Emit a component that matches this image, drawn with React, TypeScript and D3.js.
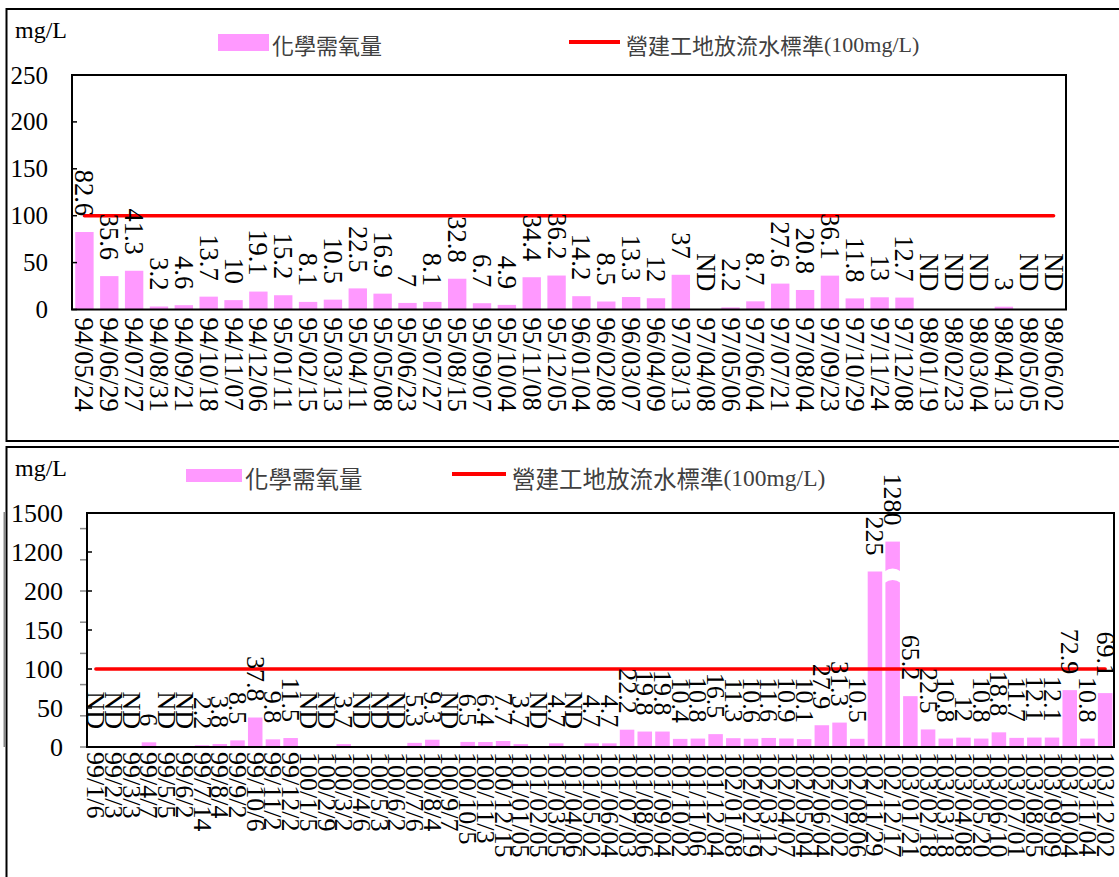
import React from 'react';
import * as d3 from 'd3';

// 上圖：94~98年 化學需氧量 (ND = 未檢出)
const topDates = [
  '94/05/24', '94/06/29', '94/07/27', '94/08/31', '94/09/21', '94/10/18', '94/11/07', '94/12/06',
  '95/01/11', '95/02/15', '95/03/13', '95/04/11', '95/05/08', '95/06/23', '95/07/27', '95/08/15',
  '95/09/07', '95/10/04', '95/11/08', '95/12/05', '96/01/04', '96/02/08', '96/03/07', '96/04/09',
  '97/03/13', '97/04/08', '97/05/06', '97/06/04', '97/07/21', '97/08/04', '97/09/23', '97/10/29',
  '97/11/24', '97/12/08', '98/01/19', '98/02/23', '98/03/04', '98/04/13', '98/05/05', '98/06/02',
];
const topCod: (number | null)[] = [
  82.6, 35.6, 41.3, 3.2, 4.6, 13.7, 10, 19.1,
  15.2, 8.1, 10.5, 22.5, 16.9, 7, 8.1, 32.8,
  6.7, 4.9, 34.4, 36.2, 14.2, 8.5, 13.3, 12,
  37, null, 2.2, 8.7, 27.6, 20.8, 36.1, 11.8,
  13, 12.7, null, null, null, 3, null, null,
];

// 下圖：99~103年
const bottomDates = [
  '99/1/6', '99/2/3', '99/3/3', '99/4/7', '99/5/5', '99/6/2', '99/7/14', '99/8/4', '99/9/2', '99/10/6',
  '99/11/2', '99/12/2', '100/1/5', '100/2/9', '100/3/2', '100/4/6', '100/5/3', '100/6/2', '100/7/6',
  '100/8/4', '100/9/7', '100/10/5', '100/11/3', '100/12/15', '101/01/05', '101/02/05', '101/03/05',
  '101/04/06', '101/05/02', '101/06/04', '101/07/03', '101/08/06', '101/09/04', '101/10/02', '101/11/06',
  '101/12/04', '102/01/08', '102/02/19', '102/03/12', '102/04/07', '102/05/04', '102/06/04', '102/07/02',
  '102/08/06', '102/11/29', '102/12/17', '103/01/21', '103/02/18', '103/03/18', '103/04/08', '103/05/20',
  '103/06/10', '103/07/01', '103/08/05', '103/09/09', '103/10/04', '103/11/04', '103/12/02',
];
const bottomCod: (number | null)[] = [
  null, null, null, 6, null, null, 2.2, 3.8, 8.5, 37.8,
  9.8, 11.5, null, null, 3.7, null, null, null, 5.3,
  9.3, null, 6.5, 6.4, 7.7, 3.7, null, 4.7,
  null, 4.7, 4.7, 22.2, 19.8, 19.8, 10.4, 10.8,
  16.5, 11.3, 10.6, 11.6, 10.9, 10.1, 27.9, 31.3,
  10.5, 225, 1280, 65.2, 22.5, 10.8, 12, 10.8,
  18.8, 11.7, 12.1, 12.1, 72.9, 10.8, 69.1,
];

const topTicks = [0, 50, 100, 150, 200, 250];
const bottomTicks = [0, 50, 100, 150, 200, 1200, 1500];
const standard = 100;
const codName = '化學需氧量';
const standardName = '營建工地放流水標準';
const standardNote = '(100mg/L)';
const unit = 'mg/L';

const PINK = '#ff99ff';
const RED = '#ff0000';
const SERIF = "'Liberation Serif', 'Times New Roman', serif";
const CJK = "'Noto Sans CJK TC', 'Noto Sans CJK SC', sans-serif";

function Panel(props: any) {
  const { dates, values, y, ticks, left, right, top, bottom, pad, tickX, fs, legend, unitY, breakAt } = props;
  const x = d3.scaleBand<string>().domain(dates).range([left, right]).paddingInner(pad).paddingOuter(pad / 2);
  const bw = x.bandwidth();
  const cx = (d: string) => (x(d) as number) + bw / 2;
  const first = cx(dates[0]);
  const last = cx(dates[dates.length - 1]);

  return (
    <g>
      <text x={15} y={unitY} fontFamily={SERIF} fontSize={24}>{unit}</text>

      {/* legend */}
      <rect x={legend.rx} y={legend.ry} width={legend.rw} height={legend.rh} fill={PINK} />
      <text x={legend.rx + legend.rw + 3} y={legend.ty} fontFamily={CJK} fontSize={legend.fs} fill="#404040" dominantBaseline="central">{codName}</text>
      <line x1={legend.lx} x2={legend.lx + legend.lw} y1={legend.ly} y2={legend.ly} stroke={RED} strokeWidth={4} />
      <text x={legend.lx + legend.lw + 6} y={legend.ty} fill="#404040" dominantBaseline="central" fontSize={legend.fs}>
        <tspan fontFamily={CJK}>{standardName}</tspan>
        <tspan fontFamily={SERIF}>{standardNote}</tspan>
      </text>

      {/* bars */}
      {dates.map((d: string, i: number) => {
        const v = values[i];
        if (v == null) return null;
        return <rect key={d} x={x(d)} y={y(v)} width={bw} height={y(0) - y(v)} fill={PINK} />;
      })}
      {breakAt && dates.map((d: string, i: number) => {
        const v = values[i];
        if (v == null || v < breakAt.min) return null;
        const y1 = breakAt.y1, y2 = breakAt.y2;
        const x0 = (x(d) as number) - 1, x1 = x0 + bw + 2;
        return (
          <path key={'b' + d} fill="#fff"
            d={`M${x0},${y1 + 3} Q${(x0 + x1) / 2},${y1 - 3} ${x1},${y1 + 3} L${x1},${y2 + 3} Q${(x0 + x1) / 2},${y2 - 3} ${x0},${y2 + 3} Z`} />
        );
      })}

      {/* standard line */}
      <line x1={first} x2={last} y1={y(standard)} y2={y(standard)} stroke={RED} strokeWidth={3.5} strokeLinecap="round" />

      {/* frame */}
      <rect x={left} y={top} width={right - left} height={bottom - top} fill="none" stroke="#000" strokeWidth={2} />

      {/* y axis */}
      {ticks.map((t: number) => (
        <g key={t}>
          <line x1={left} x2={left + 5} y1={y(t)} y2={y(t)} stroke="#000" strokeWidth={1.5} />
          <text x={tickX} y={y(t)} textAnchor="end" dominantBaseline="central" fontFamily={SERIF} fontSize={fs.tick}>{t}</text>
        </g>
      ))}

      {/* value labels */}
      {dates.map((d: string, i: number) => {
        const v = values[i];
        const yy = v == null ? y(0) - 18 : y(v) - 16;
        return (
          <text key={'v' + d} transform={`translate(${cx(d)},${yy}) rotate(90)`} textAnchor="end"
            dominantBaseline="central" fontFamily={SERIF} fontSize={fs.label}>
            {v == null ? 'ND' : String(v)}
          </text>
        );
      })}

      {/* category labels */}
      {dates.map((d: string) => (
        <text key={'c' + d} transform={`translate(${cx(d)},${bottom + fs.gap}) rotate(90)`} textAnchor="start"
          dominantBaseline="central" fontFamily={SERIF} fontSize={fs.label}>
          {d}
        </text>
      ))}
    </g>
  );
}

export default function App() {
  const yTop = d3.scaleLinear().domain([0, 250]).range([309.5, 75]);

  // 下圖為斷軸：200 以上壓縮至 1200~1500
  const raw = d3.scaleLinear().domain([0, 300]).range([747, 513]);
  const yBottom = d3.scaleLinear().domain([0, 230, 1200, 1500]).range([raw(0), raw(230), raw(250), raw(300)]);
  const minor = d3.range(0, 300, 40);

  return (
    <svg width={1119} height={877} style={{ position: 'absolute', left: 0, top: 0, background: '#fff' }}>
      <rect x={6.5} y={9} width={1120} height={432} fill="none" stroke="#000" strokeWidth={2} />
      <rect x={6.5} y={447} width={1120} height={440} fill="none" stroke="#000" strokeWidth={2} />

      <Panel dates={topDates} values={topCod} y={yTop} ticks={topTicks}
        left={72} right={1066} top={75} bottom={309.5} pad={0.26} tickX={48} unitY={38}
        fs={{ tick: 25, label: 26.5, gap: 8 }}
        legend={{ rx: 218, ry: 34, rw: 51, rh: 17, ty: 44, lx: 569, lw: 51, ly: 42, fs: 22 }} />

      <line x1={4.5} x2={4.5} y1={512} y2={747} stroke="#888" strokeWidth={2} />
      {minor.map((t) => (
        <line key={t} x1={80} x2={87} y1={raw(t)} y2={raw(t)} stroke="#888" strokeWidth={1.5} />
      ))}
      <Panel dates={bottomDates} values={bottomCod} y={yBottom} ticks={bottomTicks}
        left={87} right={1114} top={513} bottom={747} pad={0.18} tickX={63} unitY={476}
        fs={{ tick: 26, label: 26, gap: 5 }}
        breakAt={{ min: 1200, y1: raw(229), y2: raw(214) }}
        legend={{ rx: 186, ry: 469, rw: 56, rh: 13, ty: 478, lx: 452, lw: 54, ly: 474, fs: 23.5 }} />
    </svg>
  );
}
